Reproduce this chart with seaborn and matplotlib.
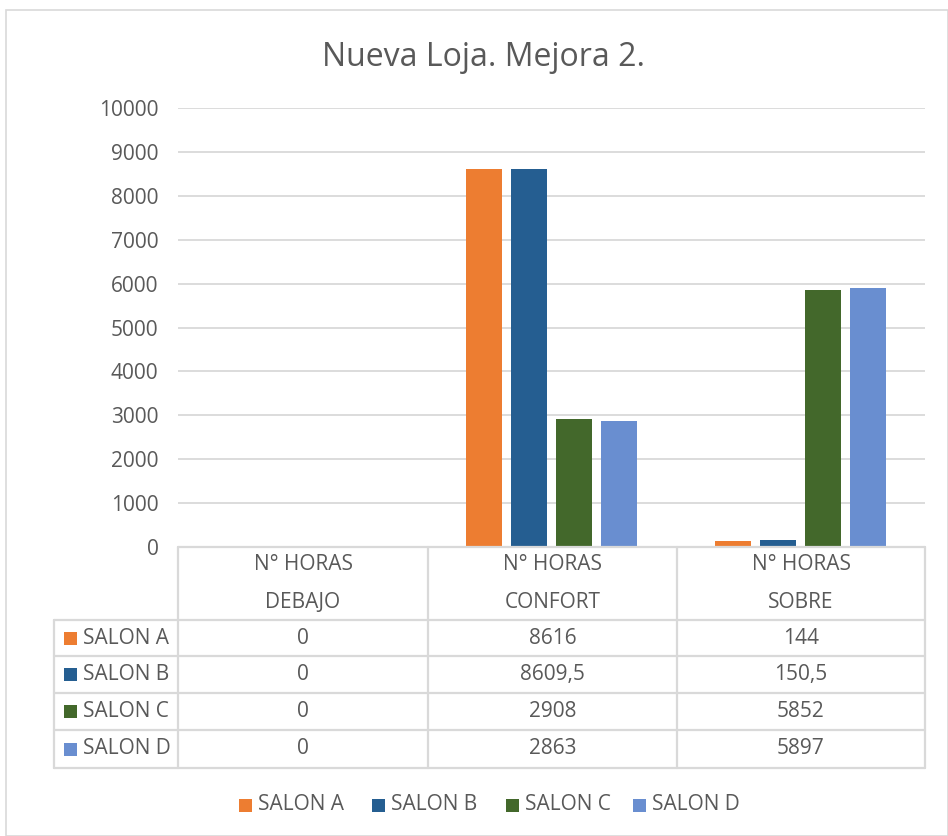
import matplotlib
matplotlib.use("Agg")
import matplotlib.pyplot as plt
from matplotlib.patches import Rectangle
from matplotlib.lines import Line2D
import seaborn as sns
import pandas as pd

# ---- data ----
categories = ["N° HORAS\nDEBAJO", "N° HORAS\nCONFORT", "N° HORAS\nSOBRE"]
salones = ["SALON A", "SALON B", "SALON C", "SALON D"]
salon_a = [0, 8616, 144]
salon_b = [0, 8609.5, 150.5]
salon_c = [0, 2908, 5852]
salon_d = [0, 2863, 5897]
colors = ["#ED7D31", "#255E91", "#43682B", "#698ED0"]
title = "Nueva Loja. Mejora 2."
yticks = [0, 1000, 2000, 3000, 4000, 5000, 6000, 7000, 8000, 9000, 10000]

series = [salon_a, salon_b, salon_c, salon_d]
rows = []
for name, vals in zip(salones, series):
    for cat, v in zip(categories, vals):
        rows.append({"categoria": cat, "salon": name, "horas": v})
df = pd.DataFrame(rows)

def fmt(v):
    s = f"{v:g}"
    return s.replace(".", ",")

# ---- layout helpers (pixel coordinates, origin top-left) ----
W, H = 948, 836
def fx(x):
    return x / W
def fy(y):
    return 1 - y / H

TXT = "#595959"
GRID = "#D9D9D9"
FONT = "Open Sans"
FS = 15

sns.set_theme(style="white")
plt.rcParams["font.family"] = [FONT, "DejaVu Sans"]

fig = plt.figure(figsize=(W / 100, H / 100), dpi=100)
fig.patch.set_facecolor("white")

# outer chart frame
fig.add_artist(Rectangle((fx(6), fy(836)), fx(948) - fx(6), fy(10) - fy(836),
                         transform=fig.transFigure, fill=False,
                         edgecolor=GRID, linewidth=1.2))

# plot area
x0, x1, ytop, ybot = 178, 925, 108, 547
ax = fig.add_axes([fx(x0), fy(ybot), fx(x1) - fx(x0), fy(ytop) - fy(ybot)])
sns.barplot(data=df, x="categoria", y="horas", hue="salon", hue_order=salones,
            palette=colors, width=0.72, gap=0.2, linewidth=0, saturation=1,
            legend=False, ax=ax, zorder=3)
ax.set_xlim(-0.5, 2.5)
ax.set_ylim(0, 10000)
ax.set_yticks(yticks)
ax.set_yticklabels([str(t) for t in yticks], color=TXT, fontsize=FS)
ax.set_xticks([])
ax.set_xlabel("")
ax.set_ylabel("")
ax.yaxis.grid(True, color=GRID, linewidth=1.3, zorder=0)
ax.tick_params(axis="y", length=0, pad=14)
for s in ax.spines.values():
    s.set_visible(False)
ax.set_facecolor("none")

fig.text(fx(483), fy(57), title, ha="center", va="center",
         fontsize=23, color=TXT)

# ---- data table below the axis ----
col_x = [178, 428, 677, 925]
row_y = [547, 620, 656, 693, 730, 768]
lbl_x = 54

def hline(y, xa, xb):
    fig.add_artist(Line2D([fx(xa), fx(xb)], [fy(y), fy(y)], color=GRID,
                          linewidth=1.6, transform=fig.transFigure))

def vline(x, ya, yb):
    fig.add_artist(Line2D([fx(x), fx(x)], [fy(ya), fy(yb)], color=GRID,
                          linewidth=1.6, transform=fig.transFigure))

hline(row_y[0], col_x[0], col_x[-1])
for y in row_y[1:]:
    hline(y, lbl_x, col_x[-1])
for x in col_x:
    vline(x, row_y[0], row_y[-1])
vline(lbl_x, row_y[1], row_y[-1])

# header cells
for i, cat in enumerate(categories):
    cx = (col_x[i] + col_x[i + 1]) / 2
    l1, l2 = cat.split("\n")
    fig.text(fx(cx), fy(565), l1, ha="center", va="center", fontsize=FS, color=TXT)
    fig.text(fx(cx), fy(602), l2, ha="center", va="center", fontsize=FS, color=TXT)

# body cells
for r, (name, vals, col) in enumerate(zip(salones, series, colors)):
    cy = (row_y[r + 1] + row_y[r + 2]) / 2
    fig.add_artist(Rectangle((fx(64), fy(cy + 6.5)), fx(13), fy(0) - fy(13),
                             transform=fig.transFigure, facecolor=col,
                             edgecolor="none"))
    fig.text(fx(83), fy(cy), name, ha="left", va="center", fontsize=FS, color=TXT)
    for i, v in enumerate(vals):
        cx = (col_x[i] + col_x[i + 1]) / 2
        fig.text(fx(cx), fy(cy), fmt(v), ha="center", va="center",
                 fontsize=FS, color=TXT)

# ---- legend ----
leg_x = [239, 372, 506, 633]
leg_y = 805
for lx, name, col in zip(leg_x, salones, colors):
    fig.add_artist(Rectangle((fx(lx), fy(leg_y + 6.5)), fx(13), fy(0) - fy(13),
                             transform=fig.transFigure, facecolor=col,
                             edgecolor="none"))
    fig.text(fx(lx + 19), fy(leg_y), name, ha="left", va="center",
             fontsize=FS, color=TXT)

fig.savefig("out.png", dpi=100, facecolor="white")
